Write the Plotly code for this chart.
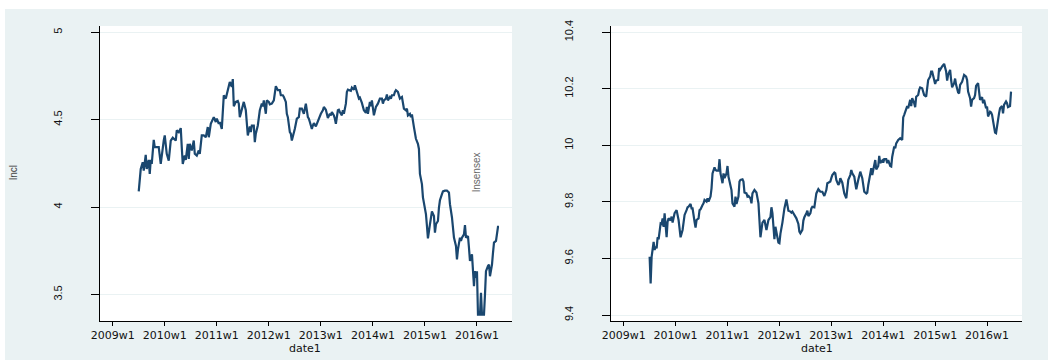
import plotly.graph_objects as go

# Weekly observations, counted in weeks from 2009w1 (52 weeks per year)
lncl_weeks = [
    26, 28, 30, 31, 33, 34, 36, 37, 38, 39, 41, 42, 46, 48, 51, 52, 54, 56, 58, 60,
    63, 64, 66, 68, 69, 70, 72, 73, 75, 76, 77, 79, 81, 82, 84, 86, 87, 89, 91, 93,
    95, 96, 98, 99, 101, 103, 104, 106, 107, 109, 111, 113, 114, 115, 117, 119, 120, 121, 123, 125,
    126, 127, 129, 130, 131, 133, 134, 135, 137, 138, 139, 141, 142, 143, 145, 146, 147, 149, 150, 151,
    153, 154, 156, 157, 159, 161, 163, 165, 167, 168, 170, 171, 173, 174, 175, 177, 178, 179, 181, 182,
    184, 186, 187, 189, 191, 192, 193, 195, 196, 197, 199, 200, 201, 203, 204, 205, 207, 208, 210, 211,
    213, 214, 215, 217, 218, 219, 221, 222, 223, 225, 226, 227, 229, 230, 231, 233, 234, 235, 237, 238,
    239, 241, 242, 243, 245, 246, 247, 249, 250, 251, 253, 254, 255, 257, 258, 259, 261, 262, 263, 265,
    266, 267, 269, 270, 271, 273, 274, 275, 277, 278, 279, 281, 282, 283, 285, 286, 287, 289, 290, 291,
    293, 294, 295, 297, 298, 299, 301, 302, 303, 305, 306, 307, 309, 310, 311, 313, 314, 315, 317, 318,
    319, 321, 322, 323, 325, 326, 327, 329, 330, 332, 334, 336, 337, 339, 340, 341, 343, 344, 345, 347,
    348, 349, 351, 352, 353, 355, 356, 357, 359, 360, 361, 362, 363, 364, 365, 367, 368, 369, 371, 372,
    373, 375, 376, 377, 379, 380, 381, 383, 384, 385, 386,
]
lncl = [
    4.090, 4.218, 4.257, 4.209, 4.299, 4.218, 4.270, 4.190, 4.270, 4.247,
    4.385, 4.343, 4.343, 4.247, 4.381, 4.410, 4.305, 4.266, 4.381, 4.397,
    4.381, 4.439, 4.429, 4.452, 4.343, 4.247, 4.295, 4.270, 4.362, 4.276,
    4.362, 4.324, 4.381, 4.305, 4.295, 4.324, 4.305, 4.410, 4.410, 4.400,
    4.458, 4.400, 4.477, 4.487, 4.515, 4.487, 4.506, 4.477, 4.487, 4.448,
    4.640, 4.621, 4.649, 4.669, 4.716, 4.688, 4.732, 4.577, 4.602, 4.607,
    4.592, 4.515, 4.554, 4.573, 4.602, 4.554, 4.458, 4.410, 4.462, 4.429,
    4.467, 4.467, 4.372, 4.420, 4.467, 4.525, 4.554, 4.592, 4.577, 4.611,
    4.534, 4.611, 4.602, 4.588, 4.592, 4.611, 4.692, 4.669, 4.669, 4.640,
    4.640, 4.630, 4.602, 4.534, 4.515, 4.429, 4.420, 4.381, 4.420, 4.448,
    4.506, 4.515, 4.563, 4.563, 4.534, 4.563, 4.592, 4.515, 4.506, 4.487,
    4.448, 4.467, 4.481, 4.462, 4.477, 4.496, 4.519, 4.534, 4.554, 4.573,
    4.557, 4.534, 4.510, 4.534, 4.525, 4.544, 4.525, 4.506, 4.477, 4.554,
    4.557, 4.544, 4.525, 4.554, 4.534, 4.592, 4.659, 4.672, 4.669, 4.665,
    4.684, 4.672, 4.697, 4.672, 4.640, 4.621, 4.626, 4.596, 4.577, 4.554,
    4.540, 4.573, 4.534, 4.602, 4.577, 4.611, 4.525, 4.544, 4.573, 4.592,
    4.615, 4.621, 4.621, 4.592, 4.611, 4.621, 4.644, 4.611, 4.630, 4.621,
    4.640, 4.640, 4.659, 4.669, 4.659, 4.630, 4.621, 4.630, 4.592, 4.563,
    4.554, 4.563, 4.525, 4.534, 4.515, 4.531, 4.458, 4.420, 4.391, 4.362,
    4.333, 4.190, 4.132, 4.056, 4.027, 3.960, 3.893, 3.822, 3.902, 3.950,
    3.975, 3.950, 3.854, 3.902, 3.921, 3.998, 4.040, 4.075, 4.090, 4.094,
    4.094, 4.084, 4.017, 3.941, 3.883, 3.826, 3.778, 3.701, 3.759, 3.826,
    3.807, 3.826, 3.845, 3.898, 3.826, 3.835, 3.768, 3.692, 3.730, 3.653,
    3.548, 3.634, 3.596, 3.634, 3.385, 3.385, 3.510, 3.385, 3.385, 3.500,
    3.634, 3.663, 3.672, 3.605, 3.672, 3.739, 3.797, 3.807, 3.864, 3.887,
    3.887,
]

lnsensex_weeks = [
    26, 27, 28, 29, 30, 31, 32, 33, 34, 35, 37, 38, 39, 40, 41, 43, 44, 45, 47, 48,
    49, 51, 52, 53, 55, 56, 57, 59, 60, 61, 63, 64, 65, 67, 68, 69, 71, 72, 73, 75,
    76, 77, 79, 80, 81, 83, 84, 85, 87, 88, 89, 91, 92, 93, 95, 96, 97, 99, 100, 101,
    103, 104, 105, 107, 108, 109, 111, 112, 113, 115, 116, 117, 119, 120, 121, 123, 124, 125, 127, 128,
    129, 131, 132, 133, 135, 136, 137, 139, 140, 141, 143, 144, 145, 147, 148, 149, 151, 152, 153, 155,
    156, 157, 159, 160, 161, 163, 164, 165, 167, 168, 169, 171, 172, 173, 175, 176, 177, 179, 180, 181,
    183, 184, 185, 187, 188, 189, 191, 192, 193, 195, 196, 197, 199, 200, 201, 203, 204, 205, 207, 208,
    209, 211, 212, 213, 215, 216, 217, 219, 220, 221, 223, 224, 225, 227, 228, 229, 231, 232, 233, 235,
    236, 237, 239, 240, 241, 243, 244, 245, 247, 248, 249, 251, 252, 253, 255, 256, 257, 259, 260, 261,
    263, 264, 265, 267, 268, 269, 271, 272, 273, 275, 276, 277, 279, 280, 281, 283, 284, 285, 287, 288,
    289, 291, 292, 293, 295, 296, 297, 299, 300, 301, 303, 304, 305, 307, 308, 309, 311, 312, 313, 315,
    316, 317, 319, 320, 321, 323, 324, 325, 327, 328, 329, 331, 332, 333, 335, 336, 337, 339, 340, 341,
    343, 344, 345, 347, 348, 349, 351, 352, 353, 355, 356, 357, 359, 360, 361, 363, 364, 365, 367, 368,
    369, 371, 372, 373, 375, 376, 377, 379, 380, 381, 383, 384, 385, 387, 388,
]
lnsensex = [
    9.606, 9.512, 9.606, 9.630, 9.659, 9.630, 9.642, 9.636, 9.675, 9.668,
    9.724, 9.722, 9.742, 9.712, 9.760, 9.675, 9.730, 9.742, 9.734, 9.748,
    9.727, 9.760, 9.769, 9.771, 9.736, 9.695, 9.675, 9.701, 9.730, 9.754,
    9.771, 9.781, 9.783, 9.793, 9.777, 9.777, 9.730, 9.709, 9.736, 9.742,
    9.771, 9.774, 9.789, 9.795, 9.807, 9.801, 9.813, 9.801, 9.819, 9.848,
    9.901, 9.922, 9.913, 9.911, 9.911, 9.951, 9.901, 9.866, 9.901, 9.884,
    9.901, 9.927, 9.889, 9.852, 9.842, 9.795, 9.783, 9.819, 9.793, 9.819,
    9.872, 9.878, 9.880, 9.872, 9.833, 9.830, 9.819, 9.821, 9.813, 9.795,
    9.830, 9.842, 9.836, 9.833, 9.795, 9.730, 9.675, 9.727, 9.734, 9.736,
    9.701, 9.722, 9.736, 9.746, 9.781, 9.760, 9.668, 9.712, 9.691, 9.656,
    9.654, 9.687, 9.727, 9.760, 9.777, 9.809, 9.777, 9.769, 9.766, 9.762,
    9.766, 9.754, 9.748, 9.742, 9.722, 9.695, 9.689, 9.701, 9.734, 9.746,
    9.760, 9.769, 9.750, 9.760, 9.777, 9.783, 9.781, 9.801, 9.830, 9.845,
    9.840, 9.836, 9.836, 9.830, 9.821, 9.842, 9.866, 9.868, 9.872, 9.884,
    9.895, 9.904, 9.901, 9.878, 9.860, 9.866, 9.884, 9.868, 9.840, 9.830,
    9.813, 9.848, 9.878, 9.895, 9.913, 9.901, 9.889, 9.866, 9.845, 9.878,
    9.895, 9.907, 9.884, 9.852, 9.836, 9.830, 9.833, 9.860, 9.901, 9.919,
    9.895, 9.931, 9.948, 9.915, 9.927, 9.963, 9.937, 9.946, 9.939, 9.951,
    9.951, 9.937, 9.948, 9.927, 9.925, 9.960, 9.996, 9.990, 10.007, 10.019,
    10.021, 10.025, 10.019, 10.099, 10.108, 10.125, 10.139, 10.131, 10.161, 10.139,
    10.167, 10.149, 10.135, 10.172, 10.178, 10.196, 10.205, 10.202, 10.190, 10.178,
    10.172, 10.214, 10.231, 10.243, 10.261, 10.261, 10.225, 10.217, 10.229, 10.231,
    10.273, 10.267, 10.279, 10.284, 10.288, 10.261, 10.229, 10.249, 10.267, 10.231,
    10.205, 10.220, 10.236, 10.214, 10.187, 10.184, 10.214, 10.225, 10.237, 10.249,
    10.243, 10.231, 10.190, 10.167, 10.137, 10.161, 10.167, 10.178, 10.210, 10.220,
    10.190, 10.161, 10.170, 10.149, 10.161, 10.131, 10.137, 10.102, 10.119, 10.116,
    10.108, 10.066, 10.045, 10.043, 10.102, 10.113, 10.131, 10.139, 10.113, 10.143,
    10.155, 10.149, 10.135, 10.139, 10.190,
]

# Axis labelling
year_ticks = [0, 52, 104, 156, 208, 260, 312, 364]
year_labels = ["2009w1", "2010w1", "2011w1", "2012w1", "2013w1", "2014w1", "2015w1", "2016w1"]
lncl_ticks = [3.5, 4, 4.5, 5]
lncl_labels = ["3.5", "4", "4.5", "5"]
sensex_ticks = [9.4, 9.6, 9.8, 10, 10.2, 10.4]
sensex_labels = ["9.4", "9.6", "9.8", "10", "10.2", "10.4"]

W, H = 1048, 360
NAVY = "#1A476F"
BLUISH = "#EAF2F3"
SANS = "Liberation Sans, Arial"
TICK_FONT_X = dict(family="DejaVu Sans", size=11, color="#111")
TICK_FONT_Y = dict(family=SANS, size=11, color="#111")
TITLE_FONT = dict(family="DejaVu Sans", size=11, color="#111")


def px(v):
    return v / W


def py(v):
    return 1 - v / H


fig = go.Figure()
fig.add_trace(go.Scatter(x=lncl_weeks, y=lncl, mode="lines",
                         line=dict(color=NAVY, width=2.2), xaxis="x", yaxis="y",
                         showlegend=False, hoverinfo="skip"))
fig.add_trace(go.Scatter(x=lnsensex_weeks, y=lnsensex, mode="lines",
                         line=dict(color=NAVY, width=2.2), xaxis="x2", yaxis="y2",
                         showlegend=False, hoverinfo="skip"))

xcommon = dict(tickmode="array", tickvals=year_ticks, ticktext=year_labels,
               ticks="outside", ticklen=4, tickwidth=1, tickcolor="#000",
               showline=True, linecolor="#000", linewidth=1.3,
               showgrid=False, zeroline=False, tickfont=TICK_FONT_X,
               tickangle=0, range=[-12.7, 399], fixedrange=True,
               automargin=False)
ycommon = dict(tickmode="array", ticks="outside", ticklen=8, tickwidth=1,
               tickcolor="#000", showline=True, linecolor="#000", linewidth=1.3,
               showgrid=True, gridcolor=BLUISH, gridwidth=1, zeroline=False,
               tickfont=TICK_FONT_Y, tickangle=-90, ticklabelstandoff=24,
               fixedrange=True, automargin=False)

fig.update_layout(
    template="none",
    width=W, height=H,
    margin=dict(l=0, r=0, t=0, b=0, autoexpand=False),
    paper_bgcolor=BLUISH,
    plot_bgcolor="white",
    xaxis=dict(domain=[px(100), px(512)], anchor="y", **xcommon),
    yaxis=dict(domain=[py(321), py(26)], anchor="x", range=[3.349, 5.036],
               tickvals=lncl_ticks, ticktext=lncl_labels, **ycommon),
    xaxis2=dict(domain=[px(611), px(1022)], anchor="y2", **xcommon),
    yaxis2=dict(domain=[py(321), py(26)], anchor="x2", range=[9.379, 10.422],
                tickvals=sensex_ticks, ticktext=sensex_labels, **ycommon),
    shapes=[
        dict(type="rect", xref="paper", yref="paper", x0=0, x1=1, y0=py(9), y1=1,
             fillcolor="white", line=dict(width=0), layer="below"),
        dict(type="rect", xref="paper", yref="paper", x0=0, x1=px(5), y0=0, y1=1,
             fillcolor="white", line=dict(width=0), layer="below"),
    ],
    annotations=[
        dict(text="date1", xref="paper", yref="paper", x=px(305), y=py(348.5),
             showarrow=False, font=TITLE_FONT,
             xanchor="center", yanchor="middle"),
        dict(text="date1", xref="paper", yref="paper", x=px(817), y=py(348.5),
             showarrow=False, font=TITLE_FONT,
             xanchor="center", yanchor="middle"),
        dict(text="lncl", xref="paper", yref="paper", x=px(13), y=py(173),
             showarrow=False, textangle=-90,
             font=dict(family=SANS, size=10, color="#444"),
             xanchor="center", yanchor="middle"),
        dict(text="lnsensex", xref="paper", yref="paper", x=px(476), y=py(173),
             showarrow=False, textangle=-90,
             font=dict(family=SANS, size=10, color="#666"),
             xanchor="center", yanchor="middle"),
    ],
)

fig.write_html("out.html")
